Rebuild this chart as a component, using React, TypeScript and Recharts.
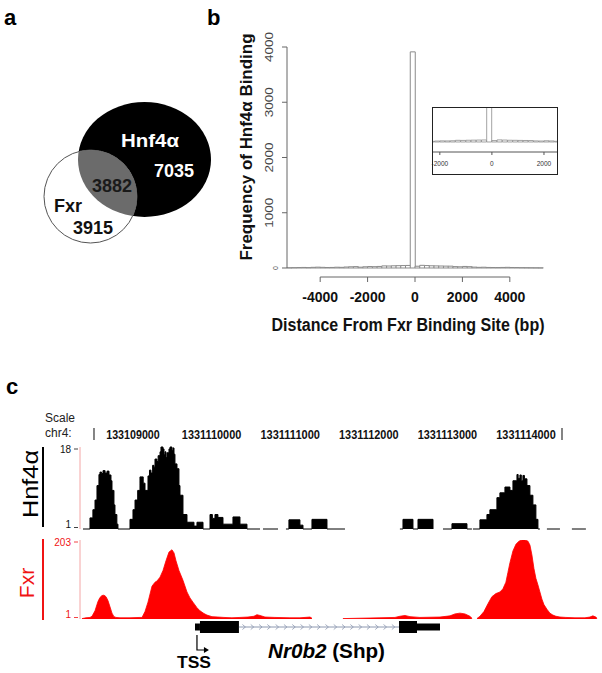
import React from 'react';
import {
  AreaChart,
  Area,
  BarChart,
  Bar,
  ComposedChart,
  XAxis,
  YAxis,
  ReferenceArea,
  ReferenceLine,
  ReferenceDot,
  Surface,
} from 'recharts';

const W = 602;
const H = 673;
const FONT = '"Liberation Sans", Arial, Helvetica, sans-serif';

// a: overlap of binding sites
const vennLabels = ['Hnf4α', 'Fxr'];
const vennCounts = [7035, 3882, 3915]; // Hnf4α only, shared, Fxr only

// b: Hnf4α peaks around Fxr sites, 200 bp bins (left edge of bin)
const binLeft = [
  -5400, -5200, -5000, -4800, -4600, -4400, -4200, -4000, -3800, -3600,
  -3400, -3200, -3000, -2800, -2600, -2400, -2200, -2000, -1800, -1600,
  -1400, -1200, -1000, -800, -600, -400, -200, 0, 200, 400,
  600, 800, 1000, 1200, 1400, 1600, 1800, 2000, 2200, 2400,
  2600, 2800, 3000, 3200, 3400, 3600, 3800, 4000, 4200, 4400,
  4600, 4800, 5000, 5200,
];
const binCount = [
  4, 6, 8, 10, 7, 12, 15, 12, 9, 10,
  14, 12, 18, 22, 25, 15, 22, 26, 24, 28,
  38, 36, 40, 42, 44, 46, 3912, 32, 48, 44,
  40, 38, 36, 34, 33, 25, 22, 28, 24, 16,
  12, 14, 10, 9, 8, 10, 12, 9, 8, 6,
  5, 4, 3, 2,
];
const histTicksX = [-4000, -2000, 0, 2000, 4000];
const histTicksY = [0, 1000, 2000, 3000, 4000];
const insetTicksX = [-2000, 0, 2000];

// c: browser view, positions are bp after chr4:133108000
const rulerTicks = [1000, 2000, 3000, 4000, 5000, 6000];
const rulerLabels = ['133109000', '1331110000', '1331111000', '1331112000', '1331113000', '1331114000'];
const rulerEnds = [504, 6458];

const hnf4Signal: [number, number | null][] = [
  [364, 1], [453, 3.3], [490, 5], [517, 7], [542, 10], [567, 12.3], [580, 12.8], [600, 12.5], [619, 13.1],
  [645, 12.6], [670, 13], [695, 12.2], [720, 11], [733, 9], [758, 6], [771, 4], [795, 2], [809, 1],
  [962, 3], [1000, 5], [1026, 7], [1060, 9], [1089, 11.8], [1130, 10.5], [1153, 9], [1191, 12], [1210, 13.2],
  [1229, 12.6], [1250, 14.2], [1267, 13.8], [1280, 15.5], [1305, 15], [1320, 16.2], [1344, 17], [1356, 18],
  [1382, 17.6], [1395, 16.4], [1407, 17], [1420, 15.8], [1433, 16.8], [1458, 17.6], [1471, 18], [1496, 17.3],
  [1509, 17.8], [1522, 16.5], [1534, 14.5], [1560, 13.5], [1585, 10], [1598, 8], [1636, 4], [1687, 2.4],
  [1776, 1.6], [1814, 2.4], [1891, 1], [1980, 4], [2010, 3.2], [2043, 4], [2081, 3.4], [2145, 2], [2272, 3.5],
  [2361, 2], [2450, 1], [2616, 1], [2630, null],
  [2654, 1], [2845, 1], [2860, null],
  [2946, 1], [2984, 2.9], [3124, 1.8], [3163, 1], [3277, 3], [3468, 1], [3697, 1], [3710, null],
  [4396, 1], [4435, 3], [4562, 1], [4626, 3], [4817, 1], [4830, null],
  [4944, 1], [5058, 2.1], [5249, 1], [5312, 1], [5318, null],
  [5325, 1], [5414, 2.9], [5503, 4], [5541, 5], [5630, 7.5], [5668, 8.5], [5732, 9.7], [5796, 9], [5834, 11],
  [5885, 12.3], [5900, 11.5], [5923, 12.2], [5940, 11], [5961, 12.1], [5980, 11.4], [6012, 10], [6050, 8],
  [6088, 6], [6126, 3], [6152, 1], [6177, 1], [6190, null],
  [6266, 1], [6432, 1], [6445, null],
  [6584, 1], [6762, 1],
];

const fxrSignal: [number, number | null][] = [
  [351, 2], [402, 4], [453, 5], [479, 8], [517, 22], [542, 38], [555, 46], [580, 56], [606, 61], [631, 62],
  [657, 58], [682, 48], [708, 32], [733, 16], [758, 7], [784, 5], [835, 4], [962, 4], [1089, 5],
  [1115, 5], [1153, 20], [1191, 44], [1242, 85], [1280, 95], [1305, 98], [1344, 108], [1382, 125], [1420, 150],
  [1458, 172], [1496, 178], [1522, 170], [1547, 150], [1585, 125], [1636, 100], [1687, 70], [1725, 55],
  [1763, 44], [1814, 30], [1852, 22], [1903, 15], [1941, 11], [2005, 7], [2081, 6], [2158, 5], [2259, 4],
  [2361, 5], [2463, 6], [2539, 8], [2577, 12], [2616, 10], [2679, 6], [2806, 5], [2997, 4], [3124, 4],
  [3252, 6], [3277, 3], [3285, null],
  [3671, 2], [3888, 3], [4142, 4], [4333, 5], [4396, 8], [4460, 10], [4524, 7], [4651, 5], [4906, 6],
  [5033, 9], [5096, 14], [5160, 16], [5223, 14], [5287, 8], [5312, 3], [5340, null],
  [5376, 2], [5414, 8], [5465, 20], [5516, 40], [5566, 58], [5617, 66], [5668, 70], [5706, 78], [5744, 95],
  [5770, 120], [5796, 145], [5834, 175], [5872, 192], [5910, 200], [5948, 203], [5986, 203], [6025, 200],
  [6050, 190], [6075, 165], [6101, 130], [6126, 105], [6152, 88], [6177, 70], [6202, 52], [6228, 38],
  [6266, 26], [6304, 16], [6342, 11], [6381, 8], [6432, 6], [6508, 5], [6623, 4], [6750, 4], [6813, 6],
  [6851, 9], [6889, 6], [6902, 3],
];

const geneParts = [
  { from: 1789, to: 1852, kind: 'utr' },
  { from: 1852, to: 2348, kind: 'cds' },
  { from: 2348, to: 4384, kind: 'intron' },
  { from: 4384, to: 4613, kind: 'cds' },
  { from: 4613, to: 4906, kind: 'utr' },
];
const tssPos = 1814;
const trackDomain = [326, 6916];

const histData = binLeft.map((b, i) => ({ mid: b + 100, count: binCount[i] }));
const hnf4Data = hnf4Signal.map(([pos, v]) => ({ pos, v }));
const fxrData = fxrSignal.map(([pos, v]) => ({ pos, v }));

const layer: React.CSSProperties = { position: 'absolute', left: 0, top: 0 };
const RED = '#f01414';

const VennPanel = () => (
  <Surface width={W} height={H} viewBox={{ x: 0, y: 0, width: W, height: H }} style={layer}>
    <defs>
      <clipPath id="hnfClip">
        <ellipse cx={144.5} cy={159.5} rx={66.5} ry={57.5} />
      </clipPath>
    </defs>
    <ellipse cx={144.5} cy={159.5} rx={66.5} ry={57.5} fill="#000" />
    <circle cx={90.5} cy={196.5} r={46.5} fill="#fff" stroke="#555" strokeWidth={1} />
    <circle cx={90.5} cy={196.5} r={46.5} fill="#6b6b6b" clipPath="url(#hnfClip)" />
    <g fontFamily={FONT} fontWeight="bold" fontSize={18} textAnchor="middle">
      <text x={150} y={146.5} fill="#fff" textLength={58} lengthAdjust="spacingAndGlyphs">{vennLabels[0]}</text>
      <text x={174} y={176.5} fill="#fff">{vennCounts[0]}</text>
      <text x={112} y={191.5} fill="#1a1a1a">{vennCounts[1]}</text>
      <text x={68} y={211.5} fill="#111">{vennLabels[1]}</text>
      <text x={93} y={233.5} fill="#111">{vennCounts[2]}</text>
    </g>
  </Surface>
);

const HistXTick = ({ x, y, payload }: any) => (
  <text x={x} y={y + 20} textAnchor="middle" fontSize={14} fontWeight="bold" fill="#111">
    {payload.value}
  </text>
);

const HistYTick = ({ x, y, payload }: any) => {
  if (payload.value === 0) {
    return (
      <text x={x - 4} y={y} transform={`rotate(-90, ${x - 4}, ${y})`} textAnchor="middle" fontSize={7} fill="#555">
        0
      </text>
    );
  }
  return (
    <text
      x={x - 9}
      y={y}
      transform={`rotate(-90, ${x - 9}, ${y})`}
      textAnchor="middle"
      fontSize={11}
      fill="#444"
      textLength={30}
      lengthAdjust="spacingAndGlyphs"
    >
      {payload.value}
    </text>
  );
};

const HistogramMain = () => (
  <BarChart
    width={W}
    height={H}
    data={histData}
    margin={{ top: 47, right: 59, bottom: 336, left: 247 }}
    barCategoryGap={0}
    barGap={0}
  >
    <XAxis
      type="number"
      dataKey="mid"
      domain={[-5400, 5400]}
      ticks={histTicksX}
      interval={0}
      axisLine={false}
      tickLine={{ stroke: '#666' }}
      tickSize={5}
      tickMargin={0}
      height={60}
      tick={HistXTick}
    />
    <YAxis
      type="number"
      domain={[-163, 4000]}
      ticks={histTicksY}
      interval={0}
      axisLine={false}
      tickLine={{ stroke: '#666' }}
      tickSize={5}
      tickMargin={0}
      width={40}
      tick={HistYTick}
    />
    <ReferenceLine segment={[{ x: -4000, y: -163 }, { x: 4000, y: -163 }]} stroke="#666" />
    <ReferenceLine segment={[{ x: -5400, y: 0 }, { x: -5400, y: 4000 }]} stroke="#666" />
    <Bar dataKey="count" fill="#fff" stroke="#8a8a8a" strokeWidth={1} isAnimationActive={false} />
  </BarChart>
);

const InsetXTick = ({ x, y, payload }: any) => (
  <text x={x} y={y + 11} textAnchor="middle" fontSize={6.5} fill="#333">
    {payload.value}
  </text>
);

const HistogramInset = () => (
  <BarChart
    width={W}
    height={H}
    data={histData}
    margin={{ top: 107, right: 45, bottom: 499, left: 432 }}
    barCategoryGap={0}
    barGap={0}
  >
    <XAxis
      type="number"
      dataKey="mid"
      domain={[-2300, 2500]}
      allowDataOverflow
      ticks={insetTicksX}
      interval={0}
      axisLine={{ stroke: '#555' }}
      tickLine={{ stroke: '#555' }}
      tickSize={3}
      tickMargin={0}
      height={22}
      tick={InsetXTick}
    />
    <YAxis hide type="number" domain={[-229, 800]} allowDataOverflow />
    <Bar dataKey="count" fill="#fff" stroke="#8a8a8a" strokeWidth={0.8} isAnimationActive={false} />
  </BarChart>
);

const RulerTick = ({ x, y, payload }: any) => {
  const v = payload.value;
  if (rulerEnds.includes(v)) {
    return <line x1={x} x2={x} y1={y - 19} y2={y - 7} stroke="#333" strokeWidth={1.2} />;
  }
  const label = rulerLabels[rulerTicks.indexOf(v)] ?? '';
  return (
    <text
      x={x}
      y={y - 8.5}
      textAnchor="middle"
      fontSize={12}
      fontWeight="bold"
      fill="#111"
      textLength={label.length * 5.95}
      lengthAdjust="spacingAndGlyphs"
    >
      {label}
    </text>
  );
};

const makeTrackTick = (top: number, color: string) => ({ x, y, payload }: any) => {
  const isTop = payload.value === top;
  const cy = isTop ? y + 2 : y - 5;
  return (
    <g>
      <text x={x - 9} y={cy + 3.5} textAnchor="end" fontSize={10} fill={color}>
        {payload.value}
      </text>
      <line x1={x - 6} x2={x - 2} y1={isTop ? cy : cy + 3.5} y2={isTop ? cy : cy + 3.5} stroke={color} strokeWidth={0.8} />
    </g>
  );
};

const Hnf4Track = () => (
  <AreaChart width={W} height={H} data={hnf4Data} margin={{ top: 427, right: 4, bottom: 144, left: 40 }}>
    <XAxis
      type="number"
      dataKey="pos"
      orientation="top"
      domain={trackDomain}
      allowDataOverflow
      ticks={[rulerEnds[0], ...rulerTicks, rulerEnds[1]]}
      interval={0}
      axisLine={false}
      tickLine={false}
      tickSize={0}
      tickMargin={0}
      height={20}
      tick={RulerTick}
    />
    <YAxis
      type="number"
      domain={[1, 18]}
      ticks={[1, 18]}
      interval={0}
      axisLine={{ stroke: '#f4a6a6' }}
      tickLine={false}
      tickSize={0}
      tickMargin={0}
      width={40}
      tick={makeTrackTick(18, '#111')}
    />
    <Area type="stepAfter" dataKey="v" fill="#000" fillOpacity={1} stroke="#000" strokeWidth={1} isAnimationActive={false} />
  </AreaChart>
);

const FxrTrack = () => (
  <AreaChart width={W} height={H} data={fxrData} margin={{ top: 540, right: 4, bottom: 54, left: 40 }}>
    <XAxis hide type="number" dataKey="pos" domain={trackDomain} allowDataOverflow />
    <YAxis
      type="number"
      domain={[1, 203]}
      ticks={[1, 203]}
      interval={0}
      allowDataOverflow
      axisLine={{ stroke: '#f4a6a6' }}
      tickLine={false}
      tickSize={0}
      tickMargin={0}
      width={40}
      tick={makeTrackTick(203, RED)}
    />
    <Area type="linear" dataKey="v" fill="#ff0000" fillOpacity={1} stroke="#ff0000" strokeWidth={0.8} isAnimationActive={false} />
  </AreaChart>
);

const IntronShape = (p: any) => {
  const { x, y, width, height } = p;
  const cy = y + height / 2;
  const marks: React.ReactNode[] = [];
  for (let cx = x + 5; cx < x + width - 3; cx += 8.3) {
    marks.push(
      <path key={cx} d={`M${cx - 1.5},${cy - 2.5} L${cx + 1.5},${cy} L${cx - 1.5},${cy + 2.5}`} fill="none" stroke="#8d98b0" strokeWidth={0.8} />
    );
  }
  return (
    <g>
      <line x1={x} x2={x + width} y1={cy} y2={cy} stroke="#8d98b0" strokeWidth={1} />
      {marks}
    </g>
  );
};

const TssArrow = ({ cx, cy }: any) => (
  <g>
    <path d={`M${cx},${cy} V${cy + 15} H${cx + 8}`} fill="none" stroke="#000" strokeWidth={1.2} />
    <path d={`M${cx + 7},${cy + 12} L${cx + 12},${cy + 15} L${cx + 7},${cy + 18} Z`} fill="#000" />
  </g>
);

const GeneModel = () => (
  <ComposedChart width={W} height={H} data={geneParts} margin={{ top: 620, right: 4, bottom: 39, left: 80 }}>
    <XAxis hide type="number" dataKey="from" domain={trackDomain} allowDataOverflow />
    <YAxis hide type="number" domain={[0, 14]} allowDataOverflow />
    {geneParts.map((g) =>
      g.kind === 'intron' ? (
        <ReferenceArea key={g.from} x1={g.from} x2={g.to} y1={5} y2={9} shape={IntronShape} ifOverflow="visible" />
      ) : (
        <ReferenceArea
          key={g.from}
          x1={g.from}
          x2={g.to}
          y1={g.kind === 'cds' ? 1 : 3.5}
          y2={g.kind === 'cds' ? 13 : 10.5}
          fill="#000"
          fillOpacity={1}
          stroke="none"
          ifOverflow="visible"
        />
      )
    )}
    <ReferenceDot x={tssPos} y={-1} shape={TssArrow} ifOverflow="visible" />
  </ComposedChart>
);

const Annotations = () => (
  <svg width={W} height={H} style={layer} fontFamily={FONT}>
    <g fontWeight="bold" fontSize={22} fill="#000">
      <text x={4} y={25}>a</text>
      <text x={207} y={25}>b</text>
      <text x={6} y={394}>c</text>
    </g>
    <text
      x={252}
      y={147}
      transform="rotate(-90, 252, 147)"
      textAnchor="middle"
      fontSize={17}
      fontWeight="bold"
      fill="#111"
      textLength={227}
      lengthAdjust="spacingAndGlyphs"
    >
      Frequency of Hnf4α Binding
    </text>
    <text x={408} y={331} textAnchor="middle" fontSize={18} fontWeight="bold" fill="#111" textLength={273} lengthAdjust="spacingAndGlyphs">
      Distance From Fxr Binding Site (bp)
    </text>
    <text x={45} y={422} fontSize={12} fill="#222">Scale</text>
    <text x={45} y={437} fontSize={12} fill="#222">chr4:</text>
    <line x1={43} x2={43} y1={447} y2={527} stroke="#000" strokeWidth={2} />
    <text x={38} y={484} transform="rotate(-90, 38, 484)" textAnchor="middle" fontSize={22} fill="#000" textLength={68} lengthAdjust="spacingAndGlyphs">
      Hnf4α
    </text>
    <line x1={43} x2={43} y1={539} y2={620} stroke={RED} strokeWidth={2} />
    <text x={34} y={583} transform="rotate(-90, 34, 583)" textAnchor="middle" fontSize={21} fill={RED}>
      Fxr
    </text>
    <text x={194} y={668} textAnchor="middle" fontSize={16} fontWeight="bold" fill="#000" textLength={34} lengthAdjust="spacingAndGlyphs">
      TSS
    </text>
    <text x={268} y={658} fontSize={20} fontWeight="bold" fill="#000" textLength={117} lengthAdjust="spacingAndGlyphs">
      <tspan fontStyle="italic">Nr0b2</tspan> (Shp)
    </text>
  </svg>
);

export default function App() {
  return (
    <div
      style={{
        position: 'absolute',
        left: 0,
        top: 0,
        width: W,
        height: H,
        background: '#fff',
        fontFamily: FONT,
        overflow: 'hidden',
      }}
    >
      <VennPanel />
      <div style={layer}>
        <HistogramMain />
      </div>
      <div style={layer}>
        <HistogramInset />
      </div>
      <div
        style={{
          position: 'absolute',
          left: 432,
          top: 107,
          width: 126,
          height: 68,
          border: '1px solid #222',
          boxSizing: 'border-box',
        }}
      />
      <div style={layer}>
        <Hnf4Track />
      </div>
      <div style={layer}>
        <FxrTrack />
      </div>
      <div style={layer}>
        <GeneModel />
      </div>
      <Annotations />
    </div>
  );
}
